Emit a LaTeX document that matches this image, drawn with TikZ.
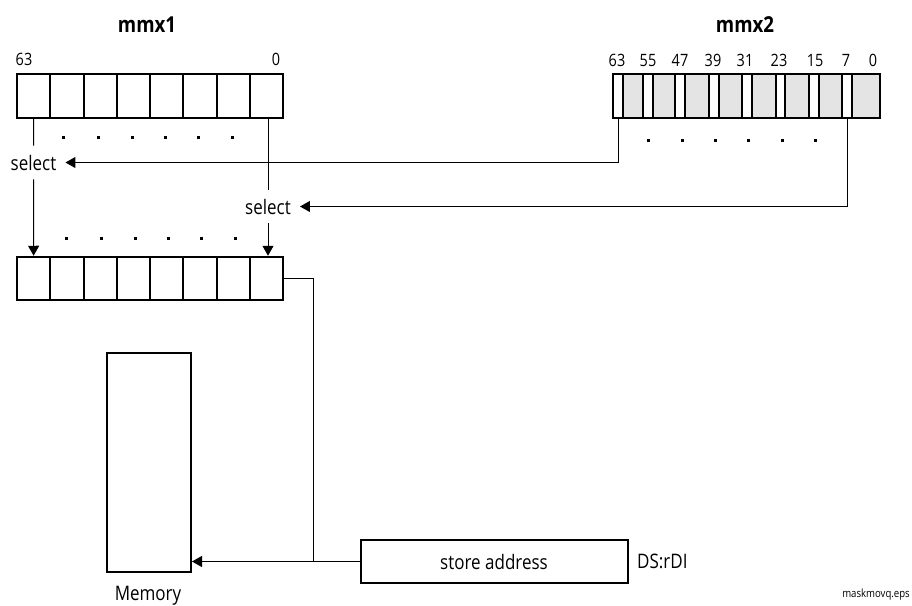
\documentclass[tikz,border=0pt]{standalone}
\usepackage{fontspec}
\setmainfont{Open Sans}[FakeStretch=0.85]
\usetikzlibrary{arrows.meta}
\begin{document}
\begin{tikzpicture}[x=1pt,y=-1pt,
  cell/.style={draw, line width=2pt, minimum width=33.25pt, minimum height=43.5pt, inner sep=0pt, fill=white},
  stripbox/.style={draw, line width=2pt, minimum width=9.5pt, minimum height=43.5pt, inner sep=0pt, fill=white},
  regbox/.style={draw, line width=2pt, minimum width=267pt, minimum height=43.5pt, inner sep=0pt, fill=regGray},
  conn/.style={line width=1pt},
  arr/.style={conn, -{Triangle[length=10pt,width=11pt]}},
  txt/.style={font=\fontsize{20}{23}\selectfont, inner sep=0pt},
  num/.style={font=\fontsize{17}{20}\selectfont, inner sep=0pt, anchor=base},
  ttl/.style={font=\fontsize{22}{25}\selectfont\bfseries, inner sep=0pt, anchor=base},
  sel/.style={txt, inner xsep=9pt, inner ysep=9pt, anchor=base},
  dotmark/.style={fill=black}
]
\definecolor{regGray}{HTML}{E4E4E4}
\useasboundingbox (0,0) rectangle (912,605);

% titles
\node[ttl] (t1) at (147,32) {mmx1};
\node[ttl] (t2) at (745,32) {mmx2};

% mmx1 register
\foreach \i in {1,...,8}
  \node[cell] (a\i) at ({17+33.25*(\i-0.5)},96) {};
\node[num] (a63) at (24,65) {63};
\node[num] (a0) at (276,65) {0};

% mmx2 register
\node[regbox] (m2) at (746.5,96) {};
\foreach \i/\x in {1/618,2/648,3/680,4/714,5/747,6/780.5,7/814,8/847}
  \node[stripbox] (s\i) at (\x,96) {};
\foreach \t/\x in {63/617,55/648,47/680,39/713,31/745,23/779,15/815,7/846,0/873}
  \node[num] (n\t) at (\x,66) {\t};

% result register
\foreach \i in {1,...,8}
  \node[cell] (b\i) at ({17+33.25*(\i-0.5)},278.5) {};

% dots
\foreach \x in {63.5,98.5,132,165,198.5,232} {
  \fill[dotmark] (\x-1.5,135.5) rectangle (\x+1.5,138.5);
  \fill[dotmark] (\x+1.5,237) rectangle (\x+4.5,240);
}
\foreach \x in {648.5,682,715,748.5,782,815}
  \fill[dotmark] (\x-1.5,138.5) rectangle (\x+1.5,141.5);

% select nodes
\node[sel] (sel1) at (33.5,170) {select};
\node[sel] (sel2) at (268,214) {select};

% connectors
\draw[conn] (a1.south) -- (sel1.north);
\draw[arr] (sel1.south) -- (b1.north);
\draw[conn] (a8.south -| sel2.north) -- (sel2.north);
\draw[arr] (sel2.south) -- (sel2.south |- b8.north);
\draw[arr] (s1.south) |- (sel1.east);
\draw[arr] (s8.south) |- (sel2.east);

% memory and store address
\node[draw, line width=2pt, minimum width=84pt, minimum height=219pt, inner sep=0pt] (mem) at (149,462.5) {};
\node[txt, anchor=base] (memlbl) at (148,600) {Memory};
\node[draw, line width=2pt, minimum width=267pt, minimum height=43pt, inner sep=0pt, txt] (store) at (494,561.5) {store address};
\node[txt, anchor=base west] (ds) at (637,568) {DS:rDI};
\node[font=\fontsize{11.3}{13}\selectfont, inner sep=0pt, anchor=base east] (eps) at (910,597) {maskmovq.eps};

\coordinate (j) at (313,561.5);
\draw[conn] (b8.east) -| (j);
\draw[arr] (store.west) -- (store.west -| mem.east);
\end{tikzpicture}
\end{document}
